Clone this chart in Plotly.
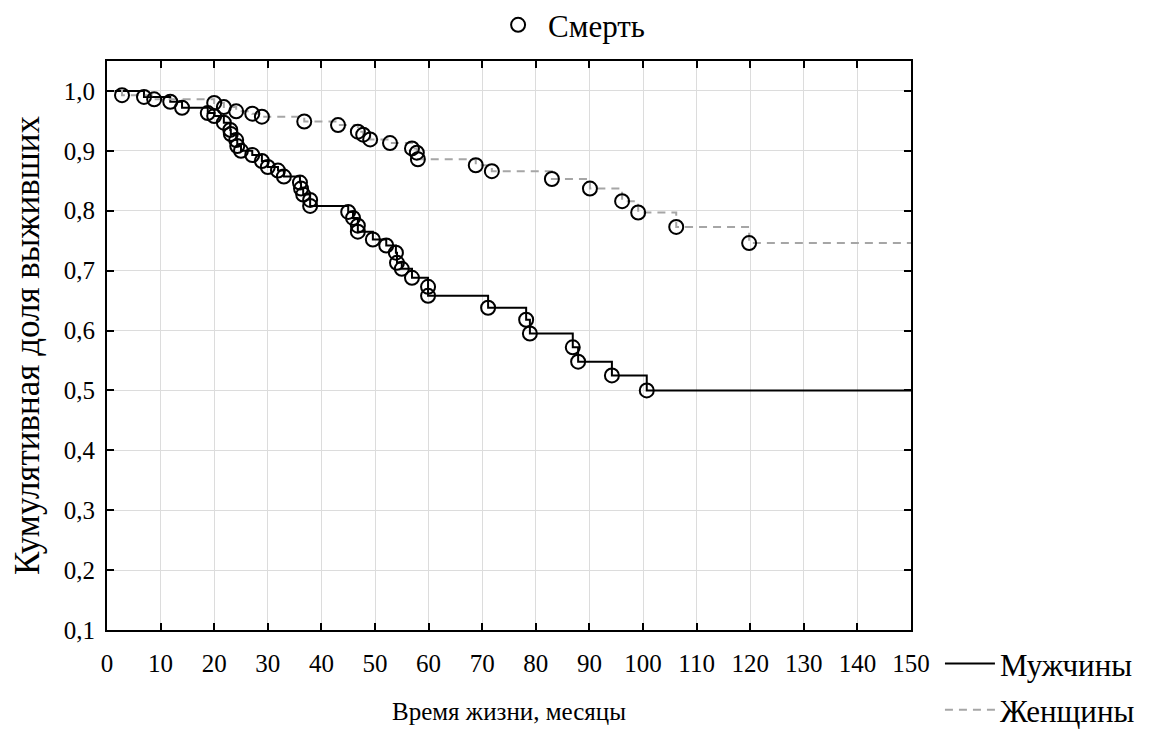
import plotly.graph_objects as go

# Kaplan-Meier data (time in months, cumulative survival)
men_t = [6.9, 11.8, 14.0, 18.8, 20.0, 21.8, 23.0, 23.1, 24.1, 24.3, 25.0, 27.1, 28.9, 30.0,
         31.9, 33.0, 36.0, 36.2, 36.6, 37.9, 37.9, 45.0, 45.9, 46.8, 46.8, 49.6, 52.1,
         53.9, 54.1, 55.0, 56.9, 59.9, 59.9, 71.1, 78.2, 78.9, 86.9, 87.9, 94.2, 100.7]
men_s = [0.990, 0.982, 0.972, 0.963, 0.958, 0.947, 0.935, 0.928, 0.918, 0.908, 0.900, 0.893,
         0.883, 0.873, 0.867, 0.857, 0.847, 0.837, 0.827, 0.818, 0.808, 0.798, 0.788, 0.775,
         0.765, 0.752, 0.742, 0.730, 0.713, 0.703, 0.688, 0.673, 0.658, 0.638, 0.618, 0.595,
         0.572, 0.548, 0.525, 0.500]

women_t = [2.8, 8.8, 20.0, 21.8, 24.1, 27.1, 28.9, 36.8, 43.1, 46.8, 47.8, 49.1, 52.8,
           56.9, 57.8, 58.0, 68.8, 71.8, 83.0, 90.1, 96.1, 99.1, 106.2, 119.8]
women_s = [0.993, 0.986, 0.980, 0.973, 0.966, 0.962, 0.957, 0.949, 0.943, 0.932, 0.927,
           0.919, 0.913, 0.904, 0.897, 0.886, 0.876, 0.866, 0.853, 0.837, 0.816, 0.797,
           0.773, 0.746]

t_max = 150
x_ticks = list(range(0, 151, 10))
y_ticks = [0.1, 0.2, 0.3, 0.4, 0.5, 0.6, 0.7, 0.8, 0.9, 1.0]
y_ticktext = ["0,1", "0,2", "0,3", "0,4", "0,5", "0,6", "0,7", "0,8", "0,9", "1,0"]

FONT = "Liberation Serif"

fig = go.Figure()

fig.add_trace(go.Scatter(
    x=[0] + men_t + [t_max], y=[1.0] + men_s + [men_s[-1]],
    mode="lines", line=dict(color="black", width=2, shape="hv"),
    name="Мужчины", legend="legend2", legendgroup="m", hoverinfo="skip"))
fig.add_trace(go.Scatter(
    x=[0] + women_t + [t_max], y=[1.0] + women_s + [women_s[-1]],
    mode="lines", line=dict(color="#a6a6a6", width=2, dash="8px,6px", shape="hv"),
    name="Женщины", legend="legend2", legendgroup="w", hoverinfo="skip"))

fig.add_trace(go.Scatter(
    x=women_t, y=women_s, mode="markers",
    marker=dict(symbol="circle-open", size=14, color="black", line=dict(width=2)),
    showlegend=False))
fig.add_trace(go.Scatter(
    x=men_t, y=men_s, mode="markers", name="Смерть",
    marker=dict(symbol="circle-open", size=14, color="black", line=dict(width=2)),
    showlegend=True, legend="legend"))

axis_common = dict(
    showline=True, linecolor="black", linewidth=2, mirror="ticks",
    ticks="inside", ticklen=7, tickwidth=2, tickcolor="black",
    showgrid=True, gridcolor="#dcdcdc", gridwidth=1, zeroline=False,
    tickfont=dict(family=FONT, size=25, color="black"),
)

fig.update_xaxes(range=[0, t_max], tickvals=x_ticks, ticktext=[str(v) for v in x_ticks],
                 ticklabelstandoff=10,
                 title=dict(text="Время жизни, месяцы", font=dict(family=FONT, size=25, color="black"),
                            standoff=26),
                 **axis_common)
fig.update_yaxes(range=[0.1, 1.05], tickvals=y_ticks, ticktext=y_ticktext,
                 ticklabelstandoff=5,
                 title=dict(text="Кумулятивная доля выживших", font=dict(family=FONT, size=35, color="black"),
                            standoff=14),
                 **axis_common)

fig.update_layout(
    width=1157, height=731,
    margin=dict(l=107, r=246, t=61, b=101, autoexpand=False),
    plot_bgcolor="white", paper_bgcolor="white",
    font=dict(family=FONT, size=24, color="black"),
    legend=dict(x=0.474, xanchor="left", y=1.063, yanchor="middle", orientation="h",
                itemwidth=50,
                font=dict(family=FONT, size=31, color="black"), bgcolor="rgba(0,0,0,0)"),
    legend2=dict(x=1.036, xanchor="left", y=-0.012, yanchor="top", orientation="v",
                 traceorder="grouped", tracegroupgap=3, itemwidth=50,
                 font=dict(family=FONT, size=31, color="black"), bgcolor="rgba(0,0,0,0)"),
)

fig.write_html("out.html")
